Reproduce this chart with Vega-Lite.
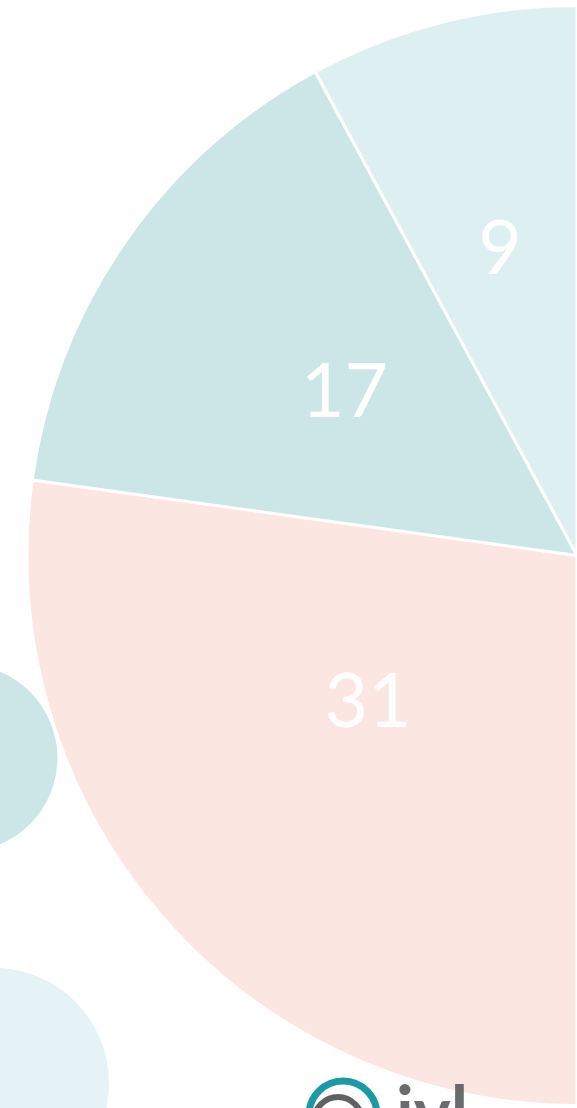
{
  "$schema": "https://vega.github.io/schema/vega-lite/v6.json",
  "width": 577,
  "height": 1108,
  "autosize": {"type": "none"},
  "padding": 0,
  "background": "white",
  "config": {"view": {"stroke": null}},
  "datasets": {
    "slices": [
      {"label": "31", "value": 31},
      {"label": "17", "value": 17},
      {"label": "9", "value": 9}
    ],
    "tealBlob": [{"x": -36, "y": 758}],
    "blueBlob": [{"x": -6, "y": 1083}],
    "logoRing": [{"x": 343, "y": 1115}],
    "logoInner": [{"x": 338, "y": 1121}],
    "logoText": [{"x": 396, "y": 1137, "text": "ivl"}]
  },
  "layer": [
    {
      "data": {"name": "tealBlob"},
      "mark": {"type": "point", "shape": "circle", "filled": true, "opacity": 1, "size": 34900, "color": "#cce5e6"},
      "encoding": {
        "x": {"field": "x", "type": "quantitative", "scale": {"domain": [0, 577], "nice": false, "zero": false}, "axis": null},
        "y": {"field": "y", "type": "quantitative", "scale": {"domain": [0, 1108], "nice": false, "zero": false, "reverse": true}, "axis": null}
      }
    },
    {
      "data": {"name": "blueBlob"},
      "mark": {"type": "point", "shape": "circle", "filled": true, "opacity": 1, "size": 52900, "color": "#e5f3f7"},
      "encoding": {
        "x": {"field": "x", "type": "quantitative", "axis": null},
        "y": {"field": "y", "type": "quantitative", "axis": null}
      }
    },
    {
      "data": {"name": "slices"},
      "mark": {"type": "arc", "outerRadius": 550, "stroke": "white", "strokeWidth": 3, "x": "width", "y": {"expr": "height/2 + 1.5"}},
      "encoding": {
        "theta": {"field": "value", "type": "quantitative", "stack": true, "scale": {"range": [3.14159265, 6.28318531]}},
        "order": {"field": "value", "type": "quantitative", "sort": "descending"},
        "color": {"field": "label", "type": "nominal", "scale": {"domain": ["31", "17", "9"], "range": ["#fbe6e1", "#cce5e6", "#deeff2"]}, "legend": null}
      }
    },
    {
      "data": {"name": "slices"},
      "mark": {"type": "text", "radius": 283, "fontSize": 75, "font": "Lato", "color": "white", "align": "center", "baseline": "middle", "x": "width", "y": {"expr": "height/2 + 1.5"}},
      "encoding": {
        "theta": {"field": "value", "type": "quantitative", "stack": true, "scale": {"range": [3.14159265, 6.28318531]}},
        "order": {"field": "value", "type": "quantitative", "sort": "descending"},
        "text": {"condition": {"test": "datum.label == '17'", "field": "label"}, "value": ""}
      }
    },
    {
      "data": {"name": "slices"},
      "mark": {"type": "text", "radius": 314, "fontSize": 75, "font": "Lato", "color": "white", "align": "center", "baseline": "middle", "x": "width", "y": {"expr": "height/2 + 1.5"}},
      "encoding": {
        "theta": {"field": "value", "type": "quantitative", "stack": true, "scale": {"range": [3.14159265, 6.28318531]}},
        "order": {"field": "value", "type": "quantitative", "sort": "descending"},
        "text": {"condition": {"test": "datum.label == '9'", "field": "label"}, "value": ""}
      }
    },
    {
      "data": {"name": "slices"},
      "mark": {"type": "text", "radius": 256, "dx": -16, "dy": -20, "fontSize": 75, "font": "Lato", "color": "white", "align": "center", "baseline": "middle", "x": "width", "y": {"expr": "height/2 + 1.5"}},
      "encoding": {
        "theta": {"field": "value", "type": "quantitative", "stack": true, "scale": {"range": [3.14159265, 6.28318531]}},
        "order": {"field": "value", "type": "quantitative", "sort": "descending"},
        "text": {"condition": {"test": "datum.label == '31'", "field": "label"}, "value": ""}
      }
    },
    {
      "data": {"name": "logoRing"},
      "mark": {"type": "point", "shape": "circle", "filled": false, "opacity": 1, "size": 4624, "strokeWidth": 7, "color": "#1c9aa3"},
      "encoding": {
        "x": {"field": "x", "type": "quantitative", "axis": null},
        "y": {"field": "y", "type": "quantitative", "axis": null}
      }
    },
    {
      "data": {"name": "logoInner"},
      "mark": {"type": "point", "shape": "circle", "filled": false, "opacity": 1, "size": 2304, "strokeWidth": 6, "color": "#5f6163"},
      "encoding": {
        "x": {"field": "x", "type": "quantitative", "axis": null},
        "y": {"field": "y", "type": "quantitative", "axis": null}
      }
    },
    {
      "data": {"name": "logoText"},
      "mark": {"type": "text", "font": "Lato", "fontWeight": "bold", "fontSize": 70, "color": "#5a5c5e", "opacity": 0.9, "align": "left", "baseline": "alphabetic"},
      "encoding": {
        "x": {"field": "x", "type": "quantitative", "axis": null},
        "y": {"field": "y", "type": "quantitative", "axis": null},
        "text": {"field": "text", "type": "nominal"}
      }
    }
  ]
}
